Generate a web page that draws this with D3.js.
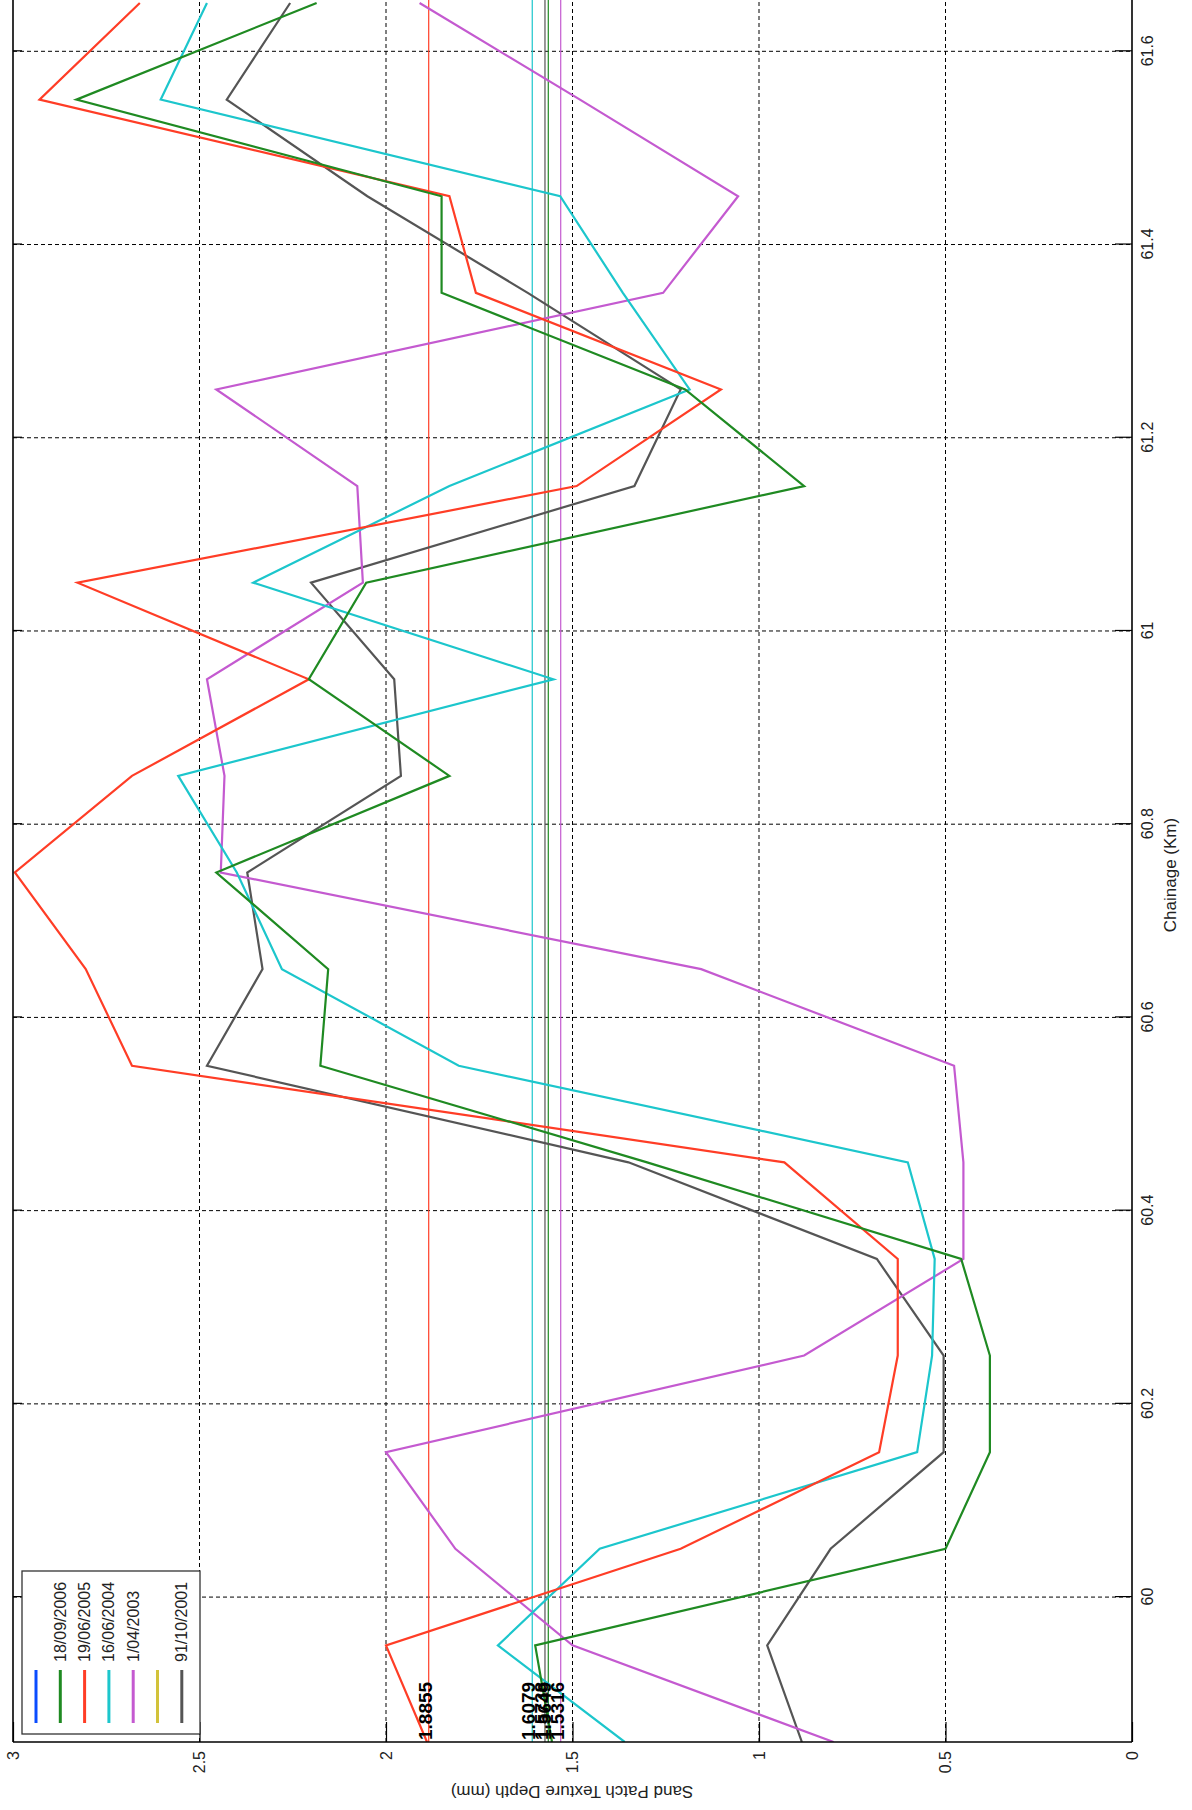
<!DOCTYPE html>
<html>
<head>
<meta charset="utf-8">
<script src="https://cdn.jsdelivr.net/npm/d3@7"></script>
<style>
  html, body { margin: 0; padding: 0; background: #fff; }
  svg { display: block; }
  text { font-family: "Liberation Sans", Arial, sans-serif; }
</style>
</head>
<body>
<svg id="chart" width="1192" height="1810"></svg>
<script>
// Chainage (km) of each sand patch test site
const chainage = [59.85, 59.95, 60.05, 60.15, 60.25, 60.35, 60.45, 60.55, 60.65, 60.75,
                  60.85, 60.95, 61.05, 61.15, 61.25, 61.35, 61.45, 61.55, 61.65];

// Texture depth (mm) by survey
const depth18092006 = [1.555, 1.60, 0.50, 0.381, 0.381, 0.458, 1.30, 2.176, 2.155, 2.455,
                       1.83, 2.207, 2.053, 0.879, 1.198, 1.851, 1.851, 2.83, 2.186];
const depth19062005 = [1.89, 2.0, 1.21, 0.678, 0.628, 0.628, 0.932, 2.681, 2.805, 2.995,
                       2.681, 2.207, 2.827, 1.489, 1.102, 1.759, 1.83, 2.929, 2.66];
const depth16062004 = [1.36, 1.70, 1.427, 0.576, 0.536, 0.529, 0.601, 1.805, 2.279, 2.40,
                       2.557, 1.551, 2.356, 1.83, 1.186, 1.365, 1.533, 2.604, 2.48];
const depth01042003 = [0.80, 1.50, 1.814, 2.0, 0.879, 0.452, 0.452, 0.477, 1.155, 2.443,
                       2.433, 2.48, 2.062, 2.077, 2.455, 1.257, 1.056, 1.48, 1.91];
const depth91102001 = [0.885, 0.978, 0.808, 0.505, 0.505, 0.684, 1.35, 2.48, 2.331, 2.372,
                       1.96, 1.978, 2.201, 1.334, 1.21, 1.62, 2.05, 2.427, 2.257];

// Legend entries (the blue and yellow slots carry no survey)
const seriesNames  = ["", "18/09/2006", "19/06/2005", "16/06/2004", "1/04/2003", "", "91/10/2001"];
const seriesColors = ["#0a4cff", "#1f8a22", "#ff3d26", "#1cc6cc", "#c45ad0", "#d2c23a", "#555555"];
const seriesData   = [null, depth18092006, depth19062005, depth16062004, depth01042003, null, depth91102001];

// Mean texture depth per survey
const averageValues = [null, 1.5649, 1.8855, 1.6079, 1.5316, null, 1.5738];
const averageLabels = ["", "1.5649", "1.8855", "1.6079", "1.5316", "", "1.5738"];

// Axis ticks
const chainageTicks  = [60, 60.2, 60.4, 60.6, 60.8, 61, 61.2, 61.4, 61.6];
const chainageLabels = ["60", "60.2", "60.4", "60.6", "60.8", "61", "61.2", "61.4", "61.6"];
const depthTicks     = [0, 0.5, 1, 1.5, 2, 2.5, 3];
const depthLabels    = ["0", "0.5", "1", "1.5", "2", "2.5", "3"];
const depthGrid      = [0.5, 1, 1.5, 2, 2.5];

const svg = d3.select("#chart");

// The chart is laid out landscape (chainage across, depth up) and turned
// a quarter turn anticlockwise onto the portrait page.
const g = svg.append("g").attr("transform", "translate(0,1810) rotate(-90)");

const uLeft = 68, uRight = 1830, vTop = 13, vBottom = 1132;
const x = d3.scaleLinear().domain([59.85, 61.65]).range([68, 1807]);
const y = d3.scaleLinear().domain([0, 3]).range([vBottom, vTop]);

g.append("defs").append("clipPath").attr("id", "plotClip")
  .append("rect").attr("x", uLeft).attr("y", vTop)
  .attr("width", uRight - uLeft).attr("height", vBottom - vTop);

// Dashed grid
const grid = g.append("g").attr("stroke", "#000").attr("stroke-width", 1)
  .attr("stroke-dasharray", "4,3").attr("fill", "none");
grid.selectAll("line.gx").data(chainageTicks).join("line").attr("class", "gx")
  .attr("x1", d => x(d)).attr("x2", d => x(d)).attr("y1", vTop).attr("y2", vBottom);
grid.selectAll("line.gy").data(depthGrid).join("line").attr("class", "gy")
  .attr("x1", uLeft).attr("x2", uRight).attr("y1", d => y(d)).attr("y2", d => y(d));

const plot = g.append("g").attr("clip-path", "url(#plotClip)");

// Mean lines
const avgIdx = averageValues.map((v, i) => i).filter(i => averageValues[i] !== null);
plot.selectAll("line.avg").data(avgIdx).join("line").attr("class", "avg")
  .attr("x1", uLeft).attr("x2", uRight)
  .attr("y1", i => y(averageValues[i])).attr("y2", i => y(averageValues[i]))
  .attr("stroke", i => seriesColors[i]).attr("stroke-width", 1.2);

// Survey lines
const line = d3.line().x(d => x(d[0])).y(d => y(d[1]));
const drawOrder = [6, 4, 3, 2, 1];
plot.selectAll("path.series").data(drawOrder).join("path").attr("class", "series")
  .attr("d", i => line(chainage.map((c, k) => [c, seriesData[i][k]])))
  .attr("fill", "none").attr("stroke", i => seriesColors[i])
  .attr("stroke-width", 2.2).attr("stroke-linejoin", "miter");

// Mean value labels
g.selectAll("text.avgLabel").data(avgIdx).join("text").attr("class", "avgLabel")
  .attr("x", uLeft + 2).attr("y", i => y(averageValues[i]) + 3)
  .attr("font-size", 19).attr("font-weight", "bold").attr("fill", "#000")
  .text(i => averageLabels[i]);

// Chainage axis with inward ticks
const xAxis = d3.axisBottom(x).tickValues(chainageTicks)
  .tickFormat((d, i) => chainageLabels[i]).tickSizeInner(-17).tickSizeOuter(0).tickPadding(10);
const xg = g.append("g").attr("transform", `translate(0,${vBottom})`).call(xAxis);
xg.select(".domain").remove();
xg.selectAll(".tick line").attr("stroke", "#000").attr("stroke-width", 1.2);
xg.selectAll(".tick text").attr("font-size", 16).attr("fill", "#222")
  .style("font-family", "'Liberation Sans', Arial, sans-serif");

const xTop = d3.axisTop(x).tickValues(chainageTicks).tickFormat("").tickSizeInner(-9).tickSizeOuter(0);
const xtg = g.append("g").attr("transform", `translate(0,${vTop})`).call(xTop);
xtg.select(".domain").remove();
xtg.selectAll(".tick line").attr("stroke", "#000").attr("stroke-width", 1.2);

// Depth axis
const yAxis = d3.axisLeft(y).tickValues(depthTicks)
  .tickFormat((d, i) => depthLabels[i]).tickSizeInner(-20).tickSizeOuter(0).tickPadding(9);
const yg = g.append("g").attr("transform", `translate(${uLeft},0)`).call(yAxis);
yg.select(".domain").remove();
yg.selectAll(".tick line").attr("stroke", "#000").attr("stroke-width", 1.2);
yg.selectAll(".tick text").attr("font-size", 16).attr("fill", "#222")
  .style("font-family", "'Liberation Sans', Arial, sans-serif");

// Plot frame
const frame = g.append("g").attr("stroke", "#000").attr("stroke-width", 1.6);
frame.append("line").attr("x1", uLeft).attr("x2", uRight).attr("y1", vTop).attr("y2", vTop);
frame.append("line").attr("x1", uLeft).attr("x2", uRight).attr("y1", vBottom).attr("y2", vBottom);
frame.append("line").attr("x1", uLeft).attr("x2", uLeft).attr("y1", vTop).attr("y2", vBottom);

// Axis titles
g.append("text").attr("x", 935).attr("y", 1176).attr("text-anchor", "middle")
  .attr("font-size", 17).attr("fill", "#222").text("Chainage (Km)");
g.append("text").attr("transform", "translate(19,572) rotate(-90)")
  .attr("text-anchor", "middle").attr("dominant-baseline", "central")
  .attr("font-size", 17).attr("fill", "#222").text("Sand Patch Texture Depth (mm)");

// Legend
const legend = g.append("g");
legend.append("rect").attr("x", 76).attr("y", 22).attr("width", 163).attr("height", 178)
  .attr("fill", "#fff").attr("stroke", "#333").attr("stroke-width", 1.3);
const rowV = i => 36 + i * 24.3;
legend.selectAll("line.key").data(seriesColors).join("line").attr("class", "key")
  .attr("x1", 87).attr("x2", 140).attr("y1", (d, i) => rowV(i)).attr("y2", (d, i) => rowV(i))
  .attr("stroke", d => d).attr("stroke-width", 3);
legend.selectAll("text.key").data(seriesNames).join("text").attr("class", "key")
  .attr("x", 148).attr("y", (d, i) => rowV(i)).attr("dominant-baseline", "central")
  .attr("font-size", 16).attr("fill", "#222").text(d => d);
</script>
</body>
</html>
